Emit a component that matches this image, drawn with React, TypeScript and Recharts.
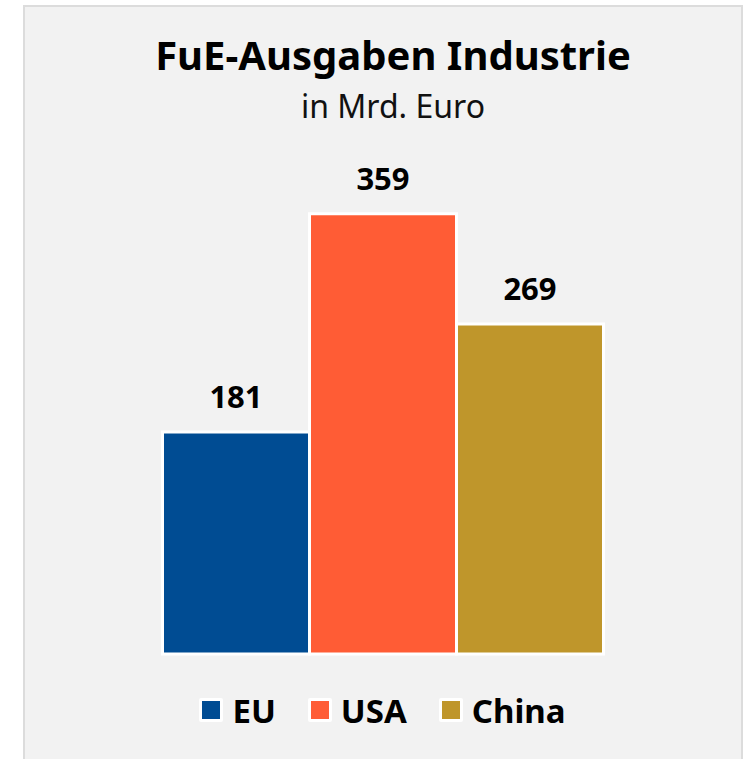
import React from 'react';
import { BarChart, Bar, XAxis, YAxis, Legend, LabelList } from 'recharts';

const regions = ['EU', 'USA', 'China'];
const spending = [181, 359, 269];
const colors = ['#004c93', '#ff5c35', '#bf962b'];

const data = [
  regions.reduce((row: Record<string, number | string>, r, i) => {
    row[r] = spending[i];
    return row;
  }, { name: 'FuE' }),
];

const FONT = '"Noto Sans", sans-serif';

const renderLegend = (props: any) => {
  // keep the series order, not the alphabetical one
  const payload = [...(props.payload || [])].sort(
    (a: any, b: any) => regions.indexOf(a.value) - regions.indexOf(b.value)
  );
  return (
    <div style={{ paddingTop: 36, height: 50, display: 'flex', justifyContent: 'center', alignItems: 'flex-start', gap: 32 }}>
      {payload.map((entry: any) => (
        <div key={entry.value} style={{ display: 'flex', alignItems: 'center', gap: 9, height: 40 }}>
          <div style={{ width: 18, height: 18, background: entry.color, border: '3.5px solid #fff', borderRadius: 2 }} />
          <span style={{ fontFamily: FONT, fontWeight: 700, fontSize: 33, color: '#000', lineHeight: 1 }}>{entry.value}</span>
        </div>
      ))}
    </div>
  );
};

const App: React.FC = () => {
  return (
    <div style={{ position: 'absolute', left: 0, top: 0, width: 753, height: 759, overflow: 'hidden' }}>
      <div
        style={{
          position: 'absolute',
          left: 23,
          top: 5,
          width: 716,
          height: 770,
          background: '#f2f2f2',
          border: '2px solid #dcdcdc',
        }}
      />
      <div style={{ position: 'absolute', left: 0, width: 786, top: 35, textAlign: 'center', fontFamily: FONT, fontWeight: 700, fontSize: 40, lineHeight: '40px', color: '#000' }}>
        FuE-Ausgaben Industrie
      </div>
      <div style={{ position: 'absolute', left: 0, width: 786, top: 90, textAlign: 'center', fontFamily: FONT, fontSize: 32, lineHeight: '32px', color: '#111' }}>
        in Mrd. Euro
      </div>
      <div style={{ position: 'absolute', left: 0, top: 0 }}>
        <BarChart
          width={753}
          height={759}
          data={data}
          barCategoryGap={0}
          barGap={0}
          margin={{ top: 163.4, right: 150.5, left: 162.5, bottom: 19 }}
        >
          <XAxis dataKey="name" hide />
          <YAxis hide domain={[0, 400]} />
          <Legend verticalAlign="bottom" content={renderLegend} />
          {regions.map((r, i) => (
            <Bar key={r} dataKey={r} fill={colors[i]} stroke="#fff" strokeWidth={3} isAnimationActive={false}>
              <LabelList
                dataKey={r}
                position="top"
                offset={24}
                style={{ fontFamily: FONT, fontWeight: 700, fontSize: 31, fill: '#000' }}
              />
            </Bar>
          ))}
        </BarChart>
      </div>
    </div>
  );
};

export default App;
